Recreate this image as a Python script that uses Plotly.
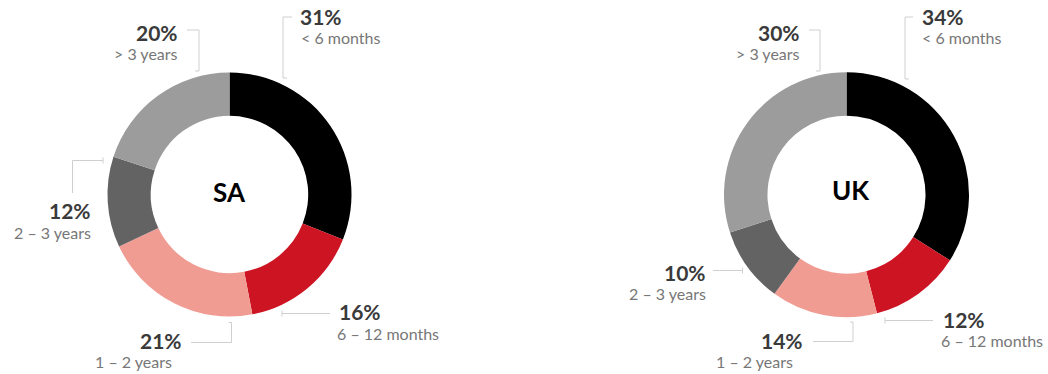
import plotly.graph_objects as go

W, H = 1048, 374

categories = ["< 6 months", "6 – 12 months", "1 – 2 years", "2 – 3 years", "> 3 years"]
sa_values = [31, 16, 21, 12, 20]
uk_values = [34, 12, 14, 10, 30]
colors = ["#000000", "#CD1423", "#F09C93", "#636363", "#9C9C9C"]

def px(x):
    return x / W

def py(y):
    return 1 - y / H

def domain(cx, cy, r):
    return dict(x=[px(cx - r), px(cx + r)], y=[py(cy + r), py(cy - r)])

fig = go.Figure()
fig.add_trace(go.Pie(
    values=sa_values, labels=categories, sort=False, direction="clockwise", rotation=0,
    hole=0.645, marker=dict(colors=colors, line=dict(width=0)), textinfo="none",
    hoverinfo="label+percent", domain=domain(229.5, 194.5, 122), showlegend=False,
))
fig.add_trace(go.Pie(
    values=uk_values, labels=categories, sort=False, direction="clockwise", rotation=0,
    hole=0.645, marker=dict(colors=colors, line=dict(width=0)), textinfo="none",
    hoverinfo="label+percent", domain=domain(846.5, 194.7, 122.5), showlegend=False,
))

LINE = "#CFCFCF"
shapes = []

def path(points):
    d = "M " + " L ".join(f"{px(x)},{py(y)}" for x, y in points)
    shapes.append(dict(type="path", path=d, xref="paper", yref="paper",
                       line=dict(color=LINE, width=1)))

# SA leader lines
path([(292, 17), (283, 17), (283, 78), (287, 78)])
path([(187, 30), (199, 30), (199, 71), (195, 71)])
path([(103, 157.5), (103, 163.5)])
path([(103, 160.5), (72.5, 160.5), (72.5, 193)])
path([(191, 342.5), (231.5, 342.5), (231.5, 322.5), (228.5, 322.5)])
path([(330, 313.5), (282, 313.5)])
path([(282, 310.5), (282, 316.5)])
# UK leader lines
path([(913, 17), (905, 17), (905, 79), (909, 79)])
path([(809, 30), (820, 30), (820, 71), (816, 71)])
path([(713, 270.5), (742.5, 270.5)])
path([(742.5, 267.5), (742.5, 273.5)])
path([(813, 341.5), (853, 341.5), (853, 322), (850, 322)])
path([(933, 320.5), (885, 320.5)])
path([(885, 317.5), (885, 323.5)])

fig.update_layout(shapes=shapes)

PCT = dict(family="Lato", size=21, color="#3A3A3A")
LAB = dict(family="Lato", size=16, color="#777777")

def pct_text(v):
    return f"<b>{v}%</b>"

def ann(x, y, text, font, xanchor):
    fig.add_annotation(x=px(x), y=py(y), xref="paper", yref="paper", text=text,
                       showarrow=False, font=font, xanchor=xanchor, yanchor="middle")

# label positions (pixel): pct (x, y, anchor), label (x, y, anchor)
sa_pos = [
    ((298, 17, "left"), (299, 38, "left")),
    ((337, 311.5, "left"), (335, 333.5, "left")),
    ((184, 340.5, "right"), (174, 361, "right")),
    ((93, 210.5, "right"), (93, 232.5, "right")),
    ((180, 32.5, "right"), (180, 53.5, "right")),
]
uk_pos = [
    ((920, 17, "left"), (920, 38, "left")),
    ((941, 319, "left"), (939, 340.5, "left")),
    ((805, 340.5, "right"), (795, 361, "right")),
    ((708, 272, "right"), (708, 293.5, "right")),
    ((802, 32.5, "right"), (802, 53.5, "right")),
]

for vals, pos in ((sa_values, sa_pos), (uk_values, uk_pos)):
    for v, cat, (p, l) in zip(vals, categories, pos):
        ann(p[0], p[1], pct_text(v), PCT, p[2])
        ann(l[0], l[1], cat, LAB, l[2])

CENTER = dict(family="Lato", size=26, color="#000000")
ann(229, 192, "<b>SA</b>", CENTER, "center")
ann(851, 190, "<b>UK</b>", CENTER, "center")

fig.update_layout(
    width=W, height=H, margin=dict(l=0, r=0, t=0, b=0),
    paper_bgcolor="#FFFFFF", plot_bgcolor="#FFFFFF",
)

fig.write_html("out.html")
